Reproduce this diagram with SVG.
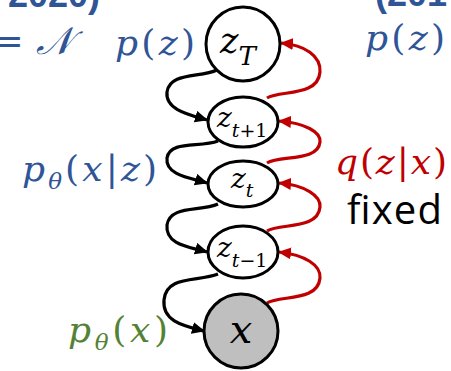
<svg xmlns="http://www.w3.org/2000/svg" width="451" height="371" viewBox="0 0 451 371">
<style>
.node{fill:#fff;stroke:#000;stroke-width:3}
.obs{fill:#BFBFBF;stroke:#000;stroke-width:3}
.m{font-family:"DejaVu Serif","Liberation Serif",serif;font-style:italic}
.u{font-style:normal}
.blk{fill:none;stroke:#000;stroke-width:3.2}
.red{fill:none;stroke:#C00000;stroke-width:3.2}
.blue{fill:#2F5597}
</style>
<defs>
<marker id="ab" markerUnits="userSpaceOnUse" markerWidth="14" markerHeight="12" refX="12" refY="6" orient="auto"><path d="M0,0 L13,6 L0,12 z" fill="#000"/></marker>
<marker id="ar" markerUnits="userSpaceOnUse" markerWidth="14" markerHeight="12" refX="12" refY="6" orient="auto"><path d="M0,0 L13,6 L0,12 z" fill="#C00000"/></marker>
</defs>

<g id="labels">
<text x="100" y="7" text-anchor="end" font-family="Liberation Sans,sans-serif" font-weight="bold" font-size="36" class="blue">2020)</text>
<text x="375" y="6" font-family="Liberation Sans,sans-serif" font-weight="bold" font-size="36" class="blue">(201</text>
<text x="72" y="54" text-anchor="end" class="m blue" font-size="38"><tspan class="u">=</tspan> 𝒩</text>
<text x="115" y="55" class="m blue" font-size="36" textLength="80">p<tspan class="u">(</tspan>z<tspan class="u">)</tspan></text>
<text x="365" y="50" class="m blue" font-size="36" textLength="80">p<tspan class="u">(</tspan>z<tspan class="u">)</tspan></text>
<text x="22" y="181" class="m blue" font-size="36" textLength="135">p<tspan font-size="23" dy="8">θ</tspan><tspan dy="-8" class="u">(</tspan>x<tspan class="u">|</tspan>z<tspan class="u">)</tspan></text>
<text x="335" y="174" class="m" font-size="36" textLength="112" fill="#C00000">q<tspan class="u">(</tspan>z<tspan class="u">|</tspan>x<tspan class="u">)</tspan></text>
<text x="347" y="224" font-family="Open Sans,Liberation Sans,sans-serif" font-size="40" textLength="95" fill="#000">fixed</text>
<text x="68" y="342" class="m" font-size="36" textLength="100" fill="#548235">p<tspan font-size="23" dy="8">θ</tspan><tspan dy="-8" class="u">(</tspan>x<tspan class="u">)</tspan></text>
</g>

<g id="connectors">
<path class="blk" marker-end="url(#ab)" d="M217,70 C200,78 170,72 167,92 C165,110 190,115 207,120"/>
<path class="blk" marker-end="url(#ab)" d="M218,141 C200,148 170,140 167,158 C165,175 190,178 207,183"/>
<path class="blk" marker-end="url(#ab)" d="M218,204 C200,212 170,205 167,225 C165,245 190,247 207,252"/>
<path class="blk" marker-end="url(#ab)" d="M218,274 C198,282 166,275 164,300 C162,322 185,326 204,331"/>
<path class="red" marker-end="url(#ar)" d="M267,98 C280,90 318,97 320,72 C321,56 305,45 281,43"/>
<path class="red" marker-end="url(#ar)" d="M267,163 C280,155 318,162 320,142 C321,132 305,123 279,121"/>
<path class="red" marker-end="url(#ar)" d="M267,231 C280,223 318,230 320,207 C321,196 305,185 279,183"/>
<path class="red" marker-end="url(#ar)" d="M267,303 C280,295 318,302 320,278 C321,265 305,255 279,252"/>
</g>

<g id="zT">
<circle class="node" cx="243" cy="44" r="37"/>
<text x="220" y="53" class="m" font-size="35">z<tspan font-size="26" dy="12">T</tspan></text>
</g>
<g id="zt1">
<ellipse class="node" cx="243" cy="122" rx="35" ry="25"/>
<text x="217" y="127" class="m" font-size="28">z<tspan font-size="19" dy="10">t<tspan class="u">+1</tspan></tspan></text>
</g>
<g id="zt">
<ellipse class="node" cx="243" cy="184" rx="35" ry="23"/>
<text x="231" y="188" class="m" font-size="28">z<tspan font-size="19" dy="9">t</tspan></text>
</g>
<g id="ztm1">
<ellipse class="node" cx="243" cy="252" rx="35" ry="26"/>
<text x="217" y="257" class="m" font-size="28">z<tspan font-size="19" dy="10">t<tspan class="u">−1</tspan></tspan></text>
</g>
<g id="x">
<circle class="obs" cx="241" cy="331" r="37"/>
<text x="241" y="343" text-anchor="middle" class="m" font-size="40">x</text>
</g>
</svg>
